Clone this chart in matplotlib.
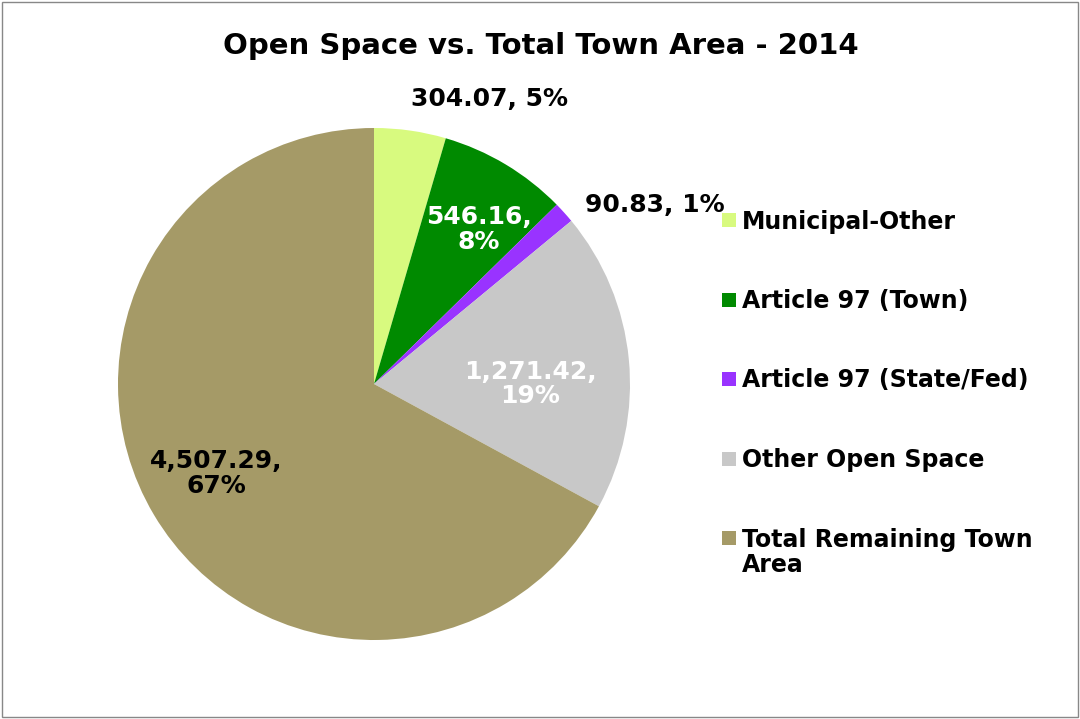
import numpy as np
import matplotlib.pyplot as plt
from matplotlib.patches import Rectangle

categories = ["Municipal-Other", "Article 97 (Town)", "Article 97 (State/Fed)",
              "Other Open Space", "Total Remaining Town\nArea"]
values = [304.07, 546.16, 90.83, 1271.42, 4507.29]
colors = ["#D8FA7F", "#008A00", "#9933FF", "#C8C8C8", "#A59A67"]
label_colors = ["black", "white", "black", "white", "black"]
# label placement: (radius fraction, angle in degrees)
label_pos = [(1.20, 68), (0.73, 56), (1.30, 32.5), (0.61, 0), (0.71, 209.6)]

plt.rcParams['font.family'] = 'DejaVu Sans'
plt.rcParams['font.weight'] = 'bold'

W, H = 1080, 719
fig = plt.figure(figsize=(W / 100, H / 100), dpi=100)
fig.patches.append(Rectangle((0.002, 0.003), 0.996, 0.994, transform=fig.transFigure,
                             fill=False, edgecolor="#888888", linewidth=1))

cx, cy, r = 374, 384, 256
ax = fig.add_axes([(cx - r) / W, (H - cy - r) / H, 2 * r / W, 2 * r / H])
wedges, _ = ax.pie(values, colors=colors, startangle=90, counterclock=False,
                   radius=1, wedgeprops=dict(linewidth=0))
ax.set_xlim(-1, 1)
ax.set_ylim(-1, 1)
ax.set_aspect('equal')

total = sum(values)
for v, c, (rf, a) in zip(values, label_colors, label_pos):
    pct = round(v / total * 100)
    if rf > 1:
        txt = f"{v:,.2f}, {pct}%"
    else:
        txt = f"{v:,.2f},\n{pct}%"
    x = rf * np.cos(np.radians(a))
    y = rf * np.sin(np.radians(a))
    ax.text(x, y, txt, ha='center', va='center', color=c, fontsize=18,
            fontweight='bold', linespacing=1.05, clip_on=False)

fig.text(541 / W, 1 - 46 / H, "Open Space vs. Total Town Area - 2014",
         ha='center', va='center', fontsize=21, fontweight='bold')

# legend, drawn entry by entry so multi-line labels align with their first line
for i, (name, col) in enumerate(zip(categories, colors)):
    ymid = 220 + i * 79.5
    fig.patches.append(Rectangle((722 / W, 1 - (ymid + 7) / H), 14 / W, 14 / H,
                                 transform=fig.transFigure, facecolor=col,
                                 edgecolor='none'))
    fig.text(742 / W, 1 - (ymid - 10.5) / H, name, ha='left', va='top',
             fontsize=17, fontweight='bold', linespacing=1.1)

fig.savefig("out.png", dpi=100)
